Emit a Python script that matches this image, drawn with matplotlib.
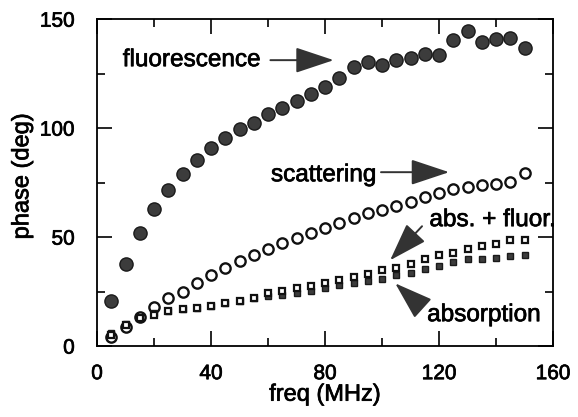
import numpy as np
import matplotlib
matplotlib.use("Agg")
import matplotlib.pyplot as plt
import matplotlib.patheffects as pe
from matplotlib.ticker import MultipleLocator

plt.rcParams['font.family'] = ['Liberation Sans', 'DejaVu Sans']

# frequencies (MHz)
freq = np.arange(5, 155, 5)

# phase (deg)
fluorescence = [20.8, 37.9, 52.0, 62.7, 71.4, 78.9, 85.6, 90.7, 95.6, 99.4,
                102.4, 106.3, 109.3, 112.4, 115.6, 118.7, 123.1, 128.1, 130.4, 128.9,
                131.2, 132.0, 133.8, 133.5, 140.4, 144.6, 139.6, 140.7, 141.4, 137.0]
scattering = [4.3, 8.9, 13.2, 18.0, 21.9, 24.9, 28.8, 32.6, 35.9, 39.0,
              41.7, 44.4, 47.1, 49.7, 52.0, 54.3, 56.6, 58.9, 60.9, 62.6,
              64.2, 66.3, 68.4, 70.2, 71.9, 72.8, 73.9, 74.6, 75.4, 79.4]
abs_fluor = [5.0, 9.6, 12.7, 14.2, 16.0, 16.8, 17.6, 18.3, 19.6, 20.8,
             21.9, 24.2, 25.4, 26.5, 27.4, 29.0, 30.3, 31.8, 33.3, 34.9,
             35.9, 37.9, 39.8, 41.7, 42.8, 44.4, 45.9, 46.8, 48.6, 48.6]
absorption = [6.0, 10.0, 13.0, 15.0, 16.0, 16.8, 17.6, 18.3, 19.6, 20.8,
              21.9, 22.9, 23.4, 24.2, 25.3, 26.5, 28.0, 29.0, 30.0, 31.0,
              32.6, 33.6, 35.6, 36.7, 38.7, 39.8, 39.8, 40.2, 41.3, 41.8]

fig = plt.figure(figsize=(5.78, 4.17), dpi=100)
ax = fig.add_axes([0.168, 0.170, 0.789, 0.784])

dark = '#3c3c3c'
ax.plot(freq, fluorescence, 'o', ms=9.5, mfc=dark, mec='#1a1a1a', mew=1.0, ls='none')
ax.plot(freq, scattering, 'o', ms=7.4, mfc='white', mec='#111111', mew=1.7, ls='none')
ax.plot(freq, absorption, 's', ms=4.8, mfc=dark, mec='#1a1a1a', mew=1.0, ls='none')
ax.plot(freq, abs_fluor, 's', ms=4.4, mfc='white', mec='#111111', mew=1.6, ls='none')

ax.set_xlim(0, 160)
ax.set_ylim(0, 150)
ax.xaxis.set_major_locator(MultipleLocator(40))
ax.xaxis.set_minor_locator(MultipleLocator(20))
ax.yaxis.set_major_locator(MultipleLocator(50))
ax.yaxis.set_minor_locator(MultipleLocator(25))
ax.tick_params(which='both', direction='in', top=True, right=True, width=1.2,
               labelsize=15)
ax.tick_params(axis='x', pad=13)
ax.tick_params(axis='y', pad=16)
ax.tick_params(which='major', length=11)
ax.tick_params(which='minor', length=6)
for s in ax.spines.values():
    s.set_linewidth(1.3)

# slightly heavier strokes, like the scanned original
heavy = [pe.withStroke(linewidth=0.5, foreground='black')]
for lab in ax.get_xticklabels() + ax.get_yticklabels():
    lab.set_path_effects(heavy)

ax.set_xlabel('freq (MHz)', fontsize=17, path_effects=heavy)
ax.set_ylabel('phase (deg)', fontsize=17, path_effects=heavy)
ax.xaxis.set_label_coords(0.5, -0.115)
ax.yaxis.set_label_coords(-0.140, 0.52)

arrow_kw = dict(arrowstyle='-|>,head_length=2.4,head_width=0.8', color='#333333',
                lw=1.4, shrinkA=0, shrinkB=0, mutation_scale=10)
fs = 17.5
ax.text(9.0, 131.2, 'fluorescence', fontsize=fs, va='center', ha='left', path_effects=heavy)
ax.annotate('', xy=(83, 131.2), xytext=(60.8, 131.2), arrowprops=arrow_kw)
ax.text(61.0, 78.4, 'scattering', fontsize=fs, va='center', ha='left', path_effects=heavy)
ax.annotate('', xy=(123.5, 79.8), xytext=(99.6, 79.8), arrowprops=arrow_kw)
ax.text(116.6, 57.8, 'abs. + fluor.', fontsize=fs, va='center', ha='left', path_effects=heavy)
ax.annotate('', xy=(102.8, 39.4), xytext=(114.0, 55.0), arrowprops=arrow_kw)
ax.text(115.8, 14.2, 'absorption', fontsize=fs, va='center', ha='left', path_effects=heavy)
ax.annotate('', xy=(104.6, 28.8), xytext=(113.3, 18.5), arrowprops=arrow_kw)

fig.savefig('out.png', dpi=100)
